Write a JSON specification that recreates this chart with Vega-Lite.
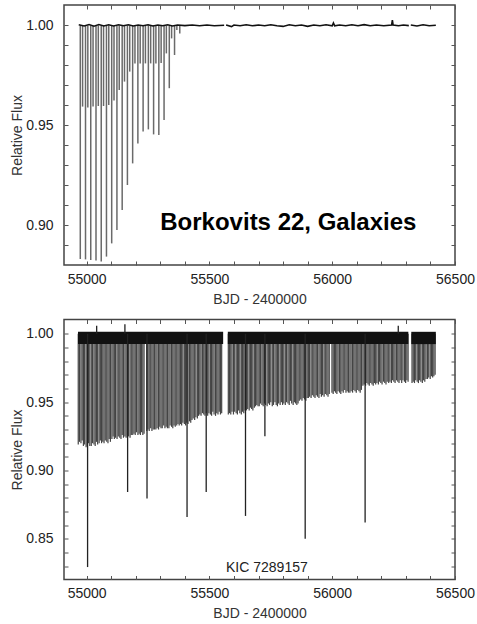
{
  "$schema": "https://vega.github.io/schema/vega-lite/v6.json",
  "padding": {"left": 10, "top": 3, "right": 0, "bottom": 0},
  "background": "white",
  "spacing": 10.5,
  "config": {
    "font": "Liberation Sans",
    "view": {"stroke": "#444", "strokeWidth": 1.5},
    "axis": {
      "grid": false, "domain": false, "tickColor": "#555", "tickSize": -4, "tickWidth": 1,
      "labelFontSize": 14, "labelColor": "#222", "labelFont": "Liberation Sans",
      "titleFontSize": 14, "titleFontWeight": "normal", "titleColor": "#333", "titleFont": "Liberation Sans",
      "labelOverlap": false, "labelFlush": false
    }
  },
  "datasets": {
    "topEcl": [
      {"t": 54974.3, "f": 0.8832}, {"t": 54995.6, "f": 0.8830}, {"t": 55016.9, "f": 0.8827}, {"t": 55038.3, "f": 0.8824},
      {"t": 55059.6, "f": 0.8820}, {"t": 55080.9, "f": 0.8844}, {"t": 55102.2, "f": 0.8910}, {"t": 55123.5, "f": 0.8977},
      {"t": 55144.9, "f": 0.9077}, {"t": 55166.2, "f": 0.9202}, {"t": 55187.5, "f": 0.9310}, {"t": 55208.8, "f": 0.9410},
      {"t": 55230.1, "f": 0.9469}, {"t": 55251.5, "f": 0.9480}, {"t": 55272.8, "f": 0.9455}, {"t": 55294.1, "f": 0.9452},
      {"t": 55315.4, "f": 0.9527}, {"t": 55336.7, "f": 0.9686}, {"t": 55358.1, "f": 0.9852}, {"t": 55379.4, "f": 0.9960},
      {"t": 54983.7, "f": 0.9594}, {"t": 55005.0, "f": 0.9589}, {"t": 55026.3, "f": 0.9594}, {"t": 55047.7, "f": 0.9597},
      {"t": 55069.0, "f": 0.9597}, {"t": 55090.3, "f": 0.9602}, {"t": 55111.6, "f": 0.9624}, {"t": 55132.9, "f": 0.9677},
      {"t": 55154.3, "f": 0.9719}, {"t": 55175.6, "f": 0.9769}, {"t": 55196.9, "f": 0.9809}, {"t": 55218.2, "f": 0.9810},
      {"t": 55239.5, "f": 0.9810}, {"t": 55260.9, "f": 0.9810}, {"t": 55282.2, "f": 0.9810}, {"t": 55303.5, "f": 0.9812},
      {"t": 55324.8, "f": 0.9860}, {"t": 55346.1, "f": 0.9935}, {"t": 55367.5, "f": 0.9977}
    ],
    "topBase": [
      {"t": 54968, "f": 1.0003, "s": "a"}, {"t": 54990, "f": 0.9997, "s": "a"}, {"t": 55010, "f": 1.0004, "s": "a"},
      {"t": 55030, "f": 0.9996, "s": "a"}, {"t": 55050, "f": 1.0004, "s": "a"}, {"t": 55070, "f": 0.9997, "s": "a"},
      {"t": 55090, "f": 1.0003, "s": "a"}, {"t": 55110, "f": 0.9997, "s": "a"}, {"t": 55130, "f": 1.0003, "s": "a"},
      {"t": 55150, "f": 0.9998, "s": "a"}, {"t": 55170, "f": 1.0003, "s": "a"}, {"t": 55190, "f": 0.9997, "s": "a"},
      {"t": 55210, "f": 1.0002, "s": "a"}, {"t": 55230, "f": 0.9998, "s": "a"}, {"t": 55250, "f": 1.0003, "s": "a"},
      {"t": 55270, "f": 0.9997, "s": "a"}, {"t": 55290, "f": 1.0002, "s": "a"}, {"t": 55310, "f": 0.9998, "s": "a"},
      {"t": 55330, "f": 1.0003, "s": "a"}, {"t": 55350, "f": 0.9997, "s": "a"}, {"t": 55370, "f": 1.0002, "s": "a"},
      {"t": 55400, "f": 0.9999, "s": "a"}, {"t": 55430, "f": 1.0002, "s": "a"}, {"t": 55460, "f": 0.9998, "s": "a"},
      {"t": 55490, "f": 1.0002, "s": "a"}, {"t": 55520, "f": 0.9998, "s": "a"}, {"t": 55560, "f": 1.0001, "s": "a"},
      {"t": 55568, "f": 1.0002, "s": "b"}, {"t": 55590, "f": 0.9994, "s": "b"}, {"t": 55600, "f": 1.0002, "s": "b"},
      {"t": 55625, "f": 0.9998, "s": "b"}, {"t": 55650, "f": 1.0003, "s": "b"}, {"t": 55675, "f": 0.9998, "s": "b"},
      {"t": 55700, "f": 1.0002, "s": "b"}, {"t": 55725, "f": 0.9998, "s": "b"}, {"t": 55750, "f": 1.0003, "s": "b"},
      {"t": 55775, "f": 0.9998, "s": "b"}, {"t": 55800, "f": 0.9995, "s": "b"}, {"t": 55825, "f": 1.0003, "s": "b"},
      {"t": 55850, "f": 0.9998, "s": "b"}, {"t": 55875, "f": 1.0002, "s": "b"}, {"t": 55900, "f": 0.9995, "s": "b"},
      {"t": 55925, "f": 1.0002, "s": "b"}, {"t": 55950, "f": 0.9998, "s": "b"}, {"t": 55975, "f": 1.0003, "s": "b"},
      {"t": 56000, "f": 0.9998, "s": "b"}, {"t": 56005, "f": 1.0012, "s": "b"}, {"t": 56010, "f": 0.9998, "s": "b"},
      {"t": 56030, "f": 1.0002, "s": "b"}, {"t": 56055, "f": 0.9998, "s": "b"}, {"t": 56080, "f": 1.0003, "s": "b"},
      {"t": 56105, "f": 0.9998, "s": "b"}, {"t": 56130, "f": 1.0004, "s": "b"}, {"t": 56155, "f": 0.9998, "s": "b"},
      {"t": 56180, "f": 1.0002, "s": "b"}, {"t": 56210, "f": 0.9998, "s": "b"}, {"t": 56242, "f": 1.0002, "s": "b"},
      {"t": 56245, "f": 1.0027, "s": "b"}, {"t": 56248, "f": 1.0002, "s": "b"}, {"t": 56270, "f": 0.9998, "s": "b"},
      {"t": 56290, "f": 1.0002, "s": "b"}, {"t": 56312, "f": 0.9999, "s": "b"},
      {"t": 56320, "f": 1.0002, "s": "c"}, {"t": 56345, "f": 0.9997, "s": "c"}, {"t": 56370, "f": 1.0003, "s": "c"},
      {"t": 56395, "f": 0.9998, "s": "c"}, {"t": 56422, "f": 1.0001, "s": "c"}
    ],
    "topText": [{"t": 55300, "f": 0.8977, "label": "Borkovits 22, Galaxies"}],
    "botBand": [
      {"t": 54965, "t2": 55556}, {"t": 55575, "t2": 56310}, {"t": 56322, "t2": 56422}
    ],
    "botEcl": [
      {"t": 54966, "f": 0.919}, {"t": 54971, "f": 0.921}, {"t": 54977, "f": 0.920}, {"t": 54982, "f": 0.922}, {"t": 54987, "f": 0.918},
      {"t": 54992, "f": 0.919}, {"t": 54998, "f": 0.917}, {"t": 55003, "f": 0.918}, {"t": 55008, "f": 0.920}, {"t": 55013, "f": 0.918},
      {"t": 55019, "f": 0.918}, {"t": 55024, "f": 0.920}, {"t": 55030, "f": 0.919}, {"t": 55035, "f": 0.918}, {"t": 55040, "f": 0.921},
      {"t": 55045, "f": 0.919}, {"t": 55051, "f": 0.920}, {"t": 55056, "f": 0.922}, {"t": 55061, "f": 0.920}, {"t": 55066, "f": 0.921},
      {"t": 55071, "f": 0.920}, {"t": 55076, "f": 0.922}, {"t": 55082, "f": 0.921}, {"t": 55087, "f": 0.920}, {"t": 55092, "f": 0.923},
      {"t": 55097, "f": 0.921}, {"t": 55103, "f": 0.923}, {"t": 55108, "f": 0.925}, {"t": 55113, "f": 0.923}, {"t": 55118, "f": 0.924},
      {"t": 55124, "f": 0.923}, {"t": 55129, "f": 0.925}, {"t": 55135, "f": 0.924}, {"t": 55140, "f": 0.923}, {"t": 55145, "f": 0.926},
      {"t": 55150, "f": 0.924}, {"t": 55156, "f": 0.925}, {"t": 55161, "f": 0.924}, {"t": 55166, "f": 0.926}, {"t": 55171, "f": 0.925},
      {"t": 55177, "f": 0.924}, {"t": 55182, "f": 0.926}, {"t": 55188, "f": 0.926}, {"t": 55193, "f": 0.927}, {"t": 55198, "f": 0.926},
      {"t": 55203, "f": 0.928}, {"t": 55209, "f": 0.926}, {"t": 55214, "f": 0.927}, {"t": 55219, "f": 0.926}, {"t": 55224, "f": 0.928},
      {"t": 55229, "f": 0.926}, {"t": 55234, "f": 0.927}, {"t": 55245, "f": 0.929}, {"t": 55250, "f": 0.930},
      {"t": 55255, "f": 0.929}, {"t": 55261, "f": 0.931}, {"t": 55266, "f": 0.929}, {"t": 55271, "f": 0.930}, {"t": 55276, "f": 0.930},
      {"t": 55282, "f": 0.930}, {"t": 55287, "f": 0.931}, {"t": 55293, "f": 0.930}, {"t": 55298, "f": 0.932}, {"t": 55303, "f": 0.931},
      {"t": 55308, "f": 0.931}, {"t": 55314, "f": 0.933}, {"t": 55319, "f": 0.931}, {"t": 55324, "f": 0.932}, {"t": 55329, "f": 0.931},
      {"t": 55335, "f": 0.931}, {"t": 55340, "f": 0.933}, {"t": 55346, "f": 0.932}, {"t": 55351, "f": 0.931}, {"t": 55356, "f": 0.933},
      {"t": 55361, "f": 0.932}, {"t": 55367, "f": 0.933}, {"t": 55372, "f": 0.934}, {"t": 55377, "f": 0.933}, {"t": 55382, "f": 0.934},
      {"t": 55387, "f": 0.933}, {"t": 55392, "f": 0.935}, {"t": 55398, "f": 0.934}, {"t": 55403, "f": 0.933}, {"t": 55408, "f": 0.935},
      {"t": 55413, "f": 0.934}, {"t": 55419, "f": 0.936}, {"t": 55424, "f": 0.935}, {"t": 55429, "f": 0.937}, {"t": 55434, "f": 0.938},
      {"t": 55440, "f": 0.937}, {"t": 55445, "f": 0.939}, {"t": 55451, "f": 0.938}, {"t": 55456, "f": 0.940}, {"t": 55461, "f": 0.941},
      {"t": 55466, "f": 0.940}, {"t": 55472, "f": 0.942}, {"t": 55477, "f": 0.941}, {"t": 55482, "f": 0.940}, {"t": 55487, "f": 0.942},
      {"t": 55493, "f": 0.940}, {"t": 55498, "f": 0.942}, {"t": 55504, "f": 0.941}, {"t": 55509, "f": 0.940}, {"t": 55514, "f": 0.943},
      {"t": 55519, "f": 0.941}, {"t": 55525, "f": 0.940}, {"t": 55530, "f": 0.942}, {"t": 55535, "f": 0.941}, {"t": 55540, "f": 0.943},
      {"t": 55545, "f": 0.941}, {"t": 55550, "f": 0.942}, {"t": 55577, "f": 0.941}, {"t": 55582, "f": 0.942}, {"t": 55587, "f": 0.941},
      {"t": 55592, "f": 0.943},
      {"t": 55598, "f": 0.941}, {"t": 55603, "f": 0.943}, {"t": 55609, "f": 0.942}, {"t": 55614, "f": 0.941}, {"t": 55619, "f": 0.944},
      {"t": 55624, "f": 0.942}, {"t": 55630, "f": 0.941}, {"t": 55635, "f": 0.943}, {"t": 55640, "f": 0.942}, {"t": 55645, "f": 0.944},
      {"t": 55651, "f": 0.944}, {"t": 55656, "f": 0.945}, {"t": 55662, "f": 0.944}, {"t": 55667, "f": 0.946}, {"t": 55672, "f": 0.945},
      {"t": 55677, "f": 0.944}, {"t": 55683, "f": 0.946}, {"t": 55688, "f": 0.947}, {"t": 55693, "f": 0.948}, {"t": 55698, "f": 0.947},
      {"t": 55703, "f": 0.947}, {"t": 55708, "f": 0.949}, {"t": 55714, "f": 0.948}, {"t": 55719, "f": 0.947}, {"t": 55724, "f": 0.949},
      {"t": 55729, "f": 0.948}, {"t": 55735, "f": 0.947}, {"t": 55740, "f": 0.949}, {"t": 55745, "f": 0.948}, {"t": 55750, "f": 0.950},
      {"t": 55756, "f": 0.947}, {"t": 55761, "f": 0.948}, {"t": 55767, "f": 0.950}, {"t": 55772, "f": 0.948}, {"t": 55777, "f": 0.947},
      {"t": 55782, "f": 0.949}, {"t": 55788, "f": 0.948}, {"t": 55793, "f": 0.950}, {"t": 55798, "f": 0.948}, {"t": 55803, "f": 0.949},
      {"t": 55809, "f": 0.948}, {"t": 55814, "f": 0.950}, {"t": 55820, "f": 0.949}, {"t": 55825, "f": 0.948}, {"t": 55830, "f": 0.951},
      {"t": 55835, "f": 0.949}, {"t": 55841, "f": 0.948}, {"t": 55846, "f": 0.950}, {"t": 55851, "f": 0.949}, {"t": 55856, "f": 0.948},
      {"t": 55861, "f": 0.949}, {"t": 55866, "f": 0.951}, {"t": 55872, "f": 0.952}, {"t": 55877, "f": 0.951}, {"t": 55882, "f": 0.953},
      {"t": 55887, "f": 0.952}, {"t": 55893, "f": 0.951}, {"t": 55898, "f": 0.953}, {"t": 55903, "f": 0.953}, {"t": 55908, "f": 0.954},
      {"t": 55914, "f": 0.953}, {"t": 55919, "f": 0.955}, {"t": 55925, "f": 0.954}, {"t": 55930, "f": 0.953}, {"t": 55935, "f": 0.955},
      {"t": 55940, "f": 0.954}, {"t": 55946, "f": 0.953}, {"t": 55951, "f": 0.956}, {"t": 55956, "f": 0.954}, {"t": 55961, "f": 0.955},
      {"t": 55967, "f": 0.954}, {"t": 55972, "f": 0.956}, {"t": 55978, "f": 0.955}, {"t": 55983, "f": 0.954}, {"t": 55988, "f": 0.956},
      {"t": 55999, "f": 0.957}, {"t": 56004, "f": 0.956}, {"t": 56009, "f": 0.958}, {"t": 56014, "f": 0.957},
      {"t": 56019, "f": 0.956}, {"t": 56024, "f": 0.958}, {"t": 56030, "f": 0.957}, {"t": 56035, "f": 0.956}, {"t": 56040, "f": 0.958},
      {"t": 56045, "f": 0.957}, {"t": 56051, "f": 0.959}, {"t": 56056, "f": 0.957}, {"t": 56061, "f": 0.958}, {"t": 56066, "f": 0.957},
      {"t": 56072, "f": 0.957}, {"t": 56077, "f": 0.958}, {"t": 56083, "f": 0.957}, {"t": 56088, "f": 0.959}, {"t": 56093, "f": 0.958},
      {"t": 56098, "f": 0.957}, {"t": 56104, "f": 0.959}, {"t": 56109, "f": 0.958}, {"t": 56114, "f": 0.957}, {"t": 56119, "f": 0.959},
      {"t": 56125, "f": 0.962}, {"t": 56130, "f": 0.963}, {"t": 56136, "f": 0.962}, {"t": 56141, "f": 0.964}, {"t": 56146, "f": 0.963},
      {"t": 56151, "f": 0.962}, {"t": 56157, "f": 0.964}, {"t": 56162, "f": 0.963}, {"t": 56167, "f": 0.962}, {"t": 56172, "f": 0.964},
      {"t": 56177, "f": 0.963}, {"t": 56182, "f": 0.964}, {"t": 56188, "f": 0.963}, {"t": 56193, "f": 0.965}, {"t": 56198, "f": 0.964},
      {"t": 56203, "f": 0.963}, {"t": 56209, "f": 0.965}, {"t": 56214, "f": 0.964}, {"t": 56219, "f": 0.963}, {"t": 56224, "f": 0.965},
      {"t": 56230, "f": 0.964}, {"t": 56235, "f": 0.965}, {"t": 56241, "f": 0.964}, {"t": 56246, "f": 0.966}, {"t": 56251, "f": 0.965},
      {"t": 56256, "f": 0.964}, {"t": 56262, "f": 0.966}, {"t": 56267, "f": 0.965}, {"t": 56272, "f": 0.964}, {"t": 56277, "f": 0.966},
      {"t": 56283, "f": 0.964}, {"t": 56288, "f": 0.966}, {"t": 56294, "f": 0.965}, {"t": 56299, "f": 0.964}, {"t": 56304, "f": 0.966},
      {"t": 56309, "f": 0.965}, {"t": 56325, "f": 0.964}, {"t": 56330, "f": 0.965},
      {"t": 56335, "f": 0.964}, {"t": 56340, "f": 0.966}, {"t": 56346, "f": 0.965}, {"t": 56351, "f": 0.964}, {"t": 56356, "f": 0.966},
      {"t": 56361, "f": 0.965}, {"t": 56367, "f": 0.964}, {"t": 56372, "f": 0.966}, {"t": 56377, "f": 0.965}, {"t": 56382, "f": 0.967},
      {"t": 56388, "f": 0.967}, {"t": 56393, "f": 0.968}, {"t": 56399, "f": 0.967}, {"t": 56404, "f": 0.969}, {"t": 56409, "f": 0.968},
      {"t": 56414, "f": 0.969}, {"t": 56419, "f": 0.970}
    ],
    "botDeep": [
      {"t": 55004, "f": 0.8294}, {"t": 55167, "f": 0.8843}, {"t": 55246, "f": 0.8795}, {"t": 55409, "f": 0.8660},
      {"t": 55487, "f": 0.8843}, {"t": 55647, "f": 0.8668}, {"t": 55726, "f": 0.9251}, {"t": 55890, "f": 0.8502},
      {"t": 56134, "f": 0.8620}, {"t": 55041, "f": 1.0059}, {"t": 55156, "f": 1.0071}, {"t": 56269, "f": 1.0059}
    ],
    "botText": [{"t": 55734, "f": 0.8258, "label": "KIC 7289157"}]
  },
  "vconcat": [
    {
      "width": 391, "height": 260,
      "layer": [
        {
          "data": {"name": "topEcl"},
          "mark": {"type": "rule", "color": "#6a6a6a", "strokeWidth": 1.5},
          "encoding": {
            "x": {"field": "t", "type": "quantitative", "scale": {"domain": [54908, 56500], "nice": false, "zero": false},
              "axis": {"orient": "bottom", "title": "BJD - 2400000", "format": "d", "values": [55000,55100,55200,55300,55400,55500,55600,55700,55800,55900,56000,56100,56200,56300,56400,56500],
                "labelExpr": "datum.value % 500 === 0 ? datum.label : ''", "labelPadding": 11, "titlePadding": 6}},
            "y": {"field": "f", "type": "quantitative", "scale": {"domain": [0.8802, 1.0102], "nice": false, "zero": false},
              "axis": {"orient": "left", "title": "Relative Flux", "format": ".2f", "values": [0.89,0.90,0.91,0.92,0.93,0.94,0.95,0.96,0.97,0.98,0.99,1.00],
                "labelExpr": "round(datum.value*100) % 5 === 0 ? datum.label : ''", "labelPadding": 15, "titlePadding": 1}},
            "y2": {"datum": 1}
          }
        },
        {
          "data": {"name": "topBase"},
          "mark": {"type": "line", "color": "#111", "strokeWidth": 1.6},
          "encoding": {
            "x": {"field": "t", "type": "quantitative", "axis": null},
            "y": {"field": "f", "type": "quantitative", "axis": null},
            "detail": {"field": "s"}
          }
        },
        {
          "data": {"name": "topText"},
          "mark": {"type": "text", "font": "Liberation Sans", "fontWeight": "bold", "fontSize": 24, "align": "left", "baseline": "alphabetic", "color": "#000"},
          "encoding": {
            "x": {"field": "t", "type": "quantitative", "axis": null},
            "y": {"field": "f", "type": "quantitative", "axis": null},
            "text": {"field": "label"}
          }
        },
        {
          "data": {"name": "topText"},
          "mark": {"type": "point", "opacity": 0},
          "encoding": {
            "x": {"field": "t", "type": "quantitative", "axis": {"orient": "top", "title": null, "labels": false, "values": [55000,55100,55200,55300,55400,55500,55600,55700,55800,55900,56000,56100,56200,56300,56400,56500]}},
            "y": {"field": "f", "type": "quantitative", "axis": {"orient": "right", "title": null, "labels": false, "values": [0.89,0.90,0.91,0.92,0.93,0.94,0.95,0.96,0.97,0.98,0.99,1.00]}}
          }
        }
      ],
      "resolve": {"axis": {"x": "independent", "y": "independent"}}
    },
    {
      "width": 391, "height": 260,
      "layer": [
        {
          "data": {"name": "botEcl"},
          "mark": {"type": "rule", "color": "#444", "strokeWidth": 1.2},
          "encoding": {
            "x": {"field": "t", "type": "quantitative", "scale": {"domain": [54908, 56500], "nice": false, "zero": false},
              "axis": {"orient": "bottom", "title": "BJD - 2400000", "format": "d", "values": [55000,55100,55200,55300,55400,55500,55600,55700,55800,55900,56000,56100,56200,56300,56400,56500],
                "labelExpr": "datum.value % 500 === 0 ? datum.label : ''", "labelPadding": 11, "titlePadding": 6}},
            "y": {"field": "f", "type": "quantitative", "scale": {"domain": [0.8203, 1.0105], "nice": false, "zero": false},
              "axis": {"orient": "left", "title": "Relative Flux", "format": ".2f", "values": [0.83,0.84,0.85,0.86,0.87,0.88,0.89,0.90,0.91,0.92,0.93,0.94,0.95,0.96,0.97,0.98,0.99,1.00],
                "labelExpr": "round(datum.value*100) % 5 === 0 ? datum.label : ''", "labelPadding": 15, "titlePadding": 1}},
            "y2": {"datum": 1}
          }
        },
        {
          "data": {"name": "botBand"},
          "mark": {"type": "rect", "color": "#111"},
          "encoding": {
            "x": {"field": "t", "type": "quantitative", "axis": null},
            "x2": {"field": "t2"},
            "y": {"datum": 0.9925, "type": "quantitative", "axis": null},
            "y2": {"datum": 1.0015}
          }
        },
        {
          "data": {"name": "botDeep"},
          "mark": {"type": "rule", "color": "#222", "strokeWidth": 1.3},
          "encoding": {
            "x": {"field": "t", "type": "quantitative", "axis": null},
            "y": {"field": "f", "type": "quantitative", "axis": null},
            "y2": {"datum": 1}
          }
        },
        {
          "data": {"name": "botText"},
          "mark": {"type": "text", "font": "Liberation Sans", "fontSize": 14, "align": "center", "baseline": "alphabetic", "color": "#222"},
          "encoding": {
            "x": {"field": "t", "type": "quantitative", "axis": null},
            "y": {"field": "f", "type": "quantitative", "axis": null},
            "text": {"field": "label"}
          }
        },
        {
          "data": {"name": "botText"},
          "mark": {"type": "point", "opacity": 0},
          "encoding": {
            "x": {"field": "t", "type": "quantitative", "axis": {"orient": "top", "title": null, "labels": false, "values": [55000,55100,55200,55300,55400,55500,55600,55700,55800,55900,56000,56100,56200,56300,56400,56500]}},
            "y": {"field": "f", "type": "quantitative", "axis": {"orient": "right", "title": null, "labels": false, "values": [0.83,0.84,0.85,0.86,0.87,0.88,0.89,0.90,0.91,0.92,0.93,0.94,0.95,0.96,0.97,0.98,0.99,1.00]}}
          }
        }
      ],
      "resolve": {"axis": {"x": "independent", "y": "independent"}}
    }
  ]
}
